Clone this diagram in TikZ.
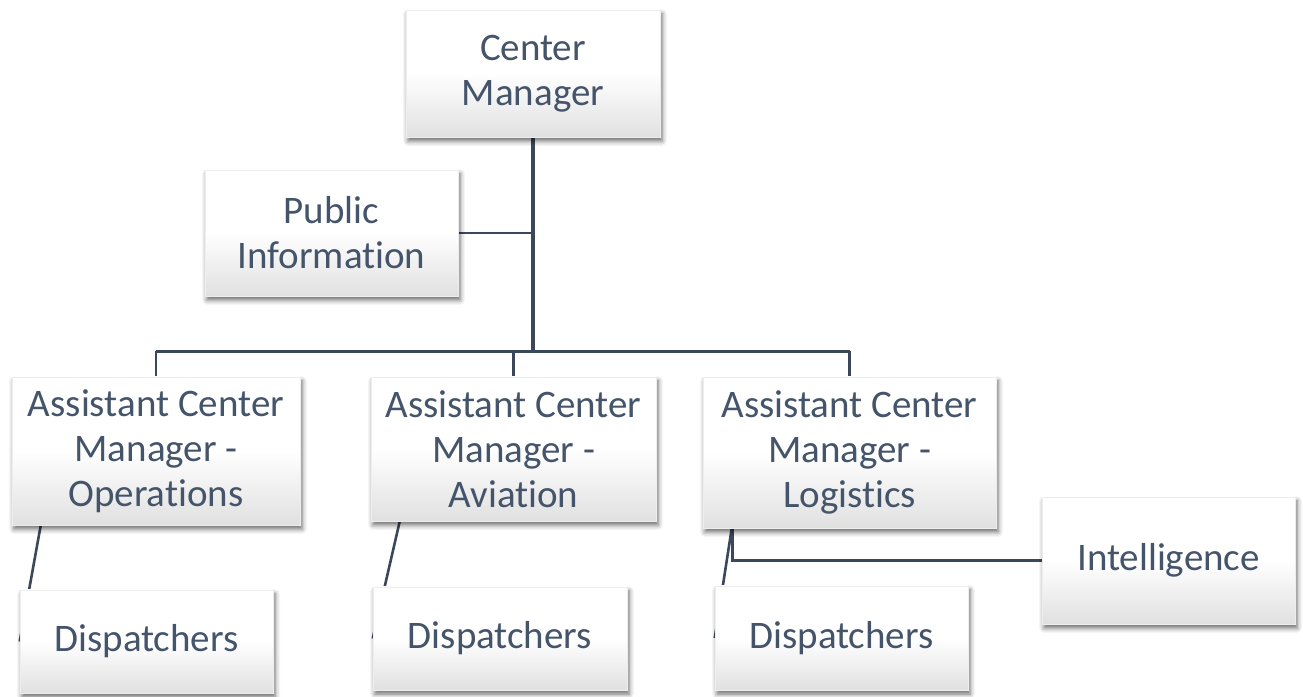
\documentclass[tikz,border=0pt]{standalone}
\usepackage{fontspec}
\setmainfont{Carlito}[Ligatures={NoCommon}]
\usetikzlibrary{shadows.blur,backgrounds,calc}
\definecolor{txt}{HTML}{44546A}
\definecolor{ln}{HTML}{3B485C}
\tikzset{
  box/.style={draw=black!7, line width=0.5pt, top color=white, bottom color=black!12, middle color=white,
    blur shadow={shadow xshift=2pt, shadow yshift=-4pt, shadow blur radius=5pt, shadow opacity=60},
    text=txt, align=center, inner sep=0pt, font=\fontsize{39}{45}\selectfont},
  conn/.style={draw=ln, line width=3.2pt},
  thin/.style={draw=ln, line width=2.6pt}
}
\begin{document}
\begin{tikzpicture}[x=1pt,y=1pt]
\useasboundingbox (0,0) rectangle (1303,696);
\node[box, minimum width=254pt, minimum height=127pt] (cm) at (533,622.5) {Center\\Manager};
\node[box, minimum width=253pt, minimum height=126pt] (pi) at (331.5,463) {Public\\Information};
\node[box, minimum width=288pt, minimum height=148pt] (ops) at (156,245) {Assistant Center\\Manager -\\Operations};
\node[box, minimum width=285pt, minimum height=144pt] (av) at (513.5,247) {Assistant Center\\Manager -\\Aviation};
\node[box, minimum width=293pt, minimum height=151pt] (log) at (849.5,243.5) {Assistant Center\\Manager -\\Logistics};
\node[box, minimum width=253pt, minimum height=127pt] (int) at (1168.5,135.5) {Intelligence};
\node[box, minimum width=253pt, minimum height=103pt] (d1) at (146.5,54.5) {Dispatchers};
\node[box, minimum width=254pt, minimum height=103pt] (d2) at (500,57.5) {Dispatchers};
\node[box, minimum width=253pt, minimum height=104pt] (d3) at (841.5,58) {Dispatchers};
\coordinate (bar) at (533,344.5);
\begin{pgfonlayer}{background}
\draw[conn] (cm.south) -- (bar);
\draw[thin] (pi.east) -- (pi.east -| cm.south);
\draw[thin] (ops.north |- bar) -- (log.north |- bar);
\draw[thin] (ops.north |- bar) -- (ops.north);
\draw[thin] (av.north |- bar) -- (av.north);
\draw[thin] (log.north |- bar) -- (log.north);
\draw[thin] ($(ops.south west)+(29,0)$) -- (d1.west);
\draw[thin] ($(av.south west)+(29,0)$) -- (d2.west);
\draw[thin] ($(log.south west)+(29,0)$) -- (d3.west);
\draw[thin] ($(log.south west)+(30,0)$) |- (int.west);
\end{pgfonlayer}
\end{tikzpicture}
\end{document}
